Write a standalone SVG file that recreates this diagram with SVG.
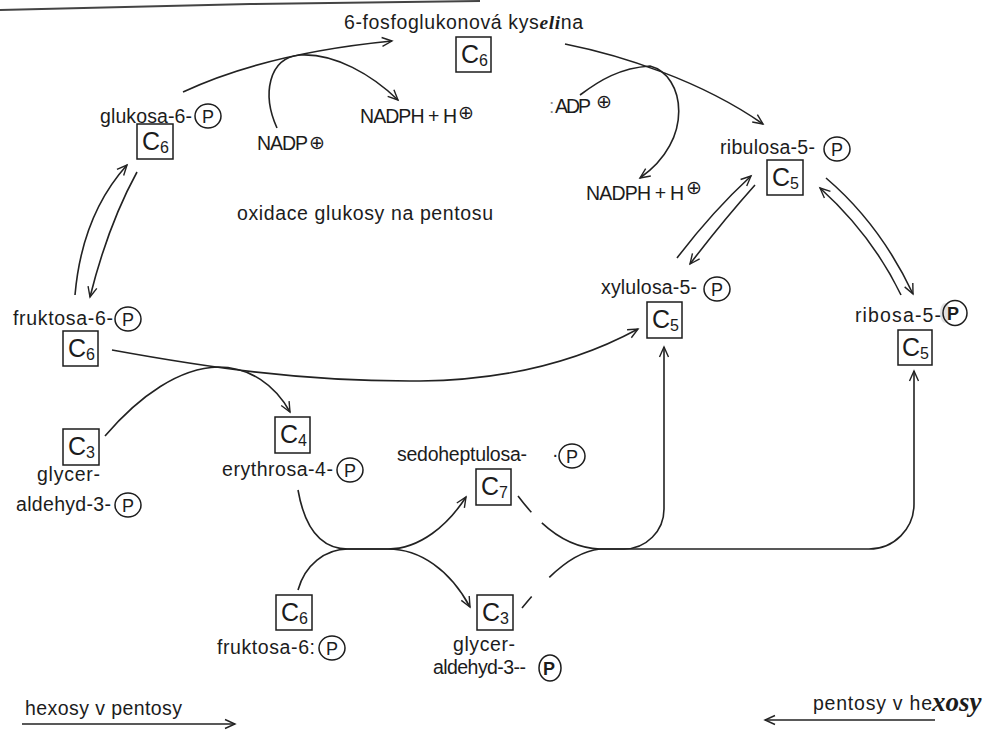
<svg xmlns="http://www.w3.org/2000/svg" width="994" height="737" viewBox="0 0 994 737">
  <defs>
    <style>
      .lbl { font-family: "Liberation Sans", Arial, sans-serif; font-size: 19.5px; fill: #1c1c1c; }
      .box { fill: none; stroke: #1c1c1c; stroke-width: 1.5; }
      .cl { font-family: "Liberation Sans", Arial, sans-serif; font-size: 25px; fill: #1c1c1c; }
      .sub { font-size: 16px; }
      .ph { fill: none; stroke: #1c1c1c; stroke-width: 1.5; }
      .pt { font-family: "Liberation Sans", Arial, sans-serif; font-size: 18px; fill: #1c1c1c; text-anchor: middle; }
      .plus { font-family: "DejaVu Sans", sans-serif; font-size: 19px; fill: #1c1c1c; text-anchor: middle; }
      .hand { font-family: "Liberation Serif", serif; font-style: italic; font-weight: bold; }
      .big { font-size: 27px; }
      .conn path { fill: none; stroke: #222; stroke-width: 1.6; }
    </style>
    <marker id="ah" markerUnits="userSpaceOnUse" markerWidth="14" markerHeight="12" refX="11" refY="6" orient="auto">
      <path d="M1,1.5 L11,6 L1,10.5" fill="none" stroke="#222" stroke-width="1.4"/>
    </marker>
  </defs>

  <rect width="994" height="737" fill="#ffffff"/>
  <!-- page edge at the top -->
  <path d="M0,10 L250,4 L480,1" fill="none" stroke="#444" stroke-width="2"/>

  <!-- connectors -->
  <g id="connectors" class="conn">
    <!-- glukosa-6-P -> 6-fosfoglukonova kyselina, NADP+ -> NADPH -->
    <path d="M183,92 C230,70 300,50 392,41" marker-end="url(#ah)"/>
    <path d="M277,128 C262,95 268,58 300,55 C335,53 372,75 398,100" marker-end="url(#ah)"/>
    <!-- 6-fosfoglukonova kyselina -> ribulosa-5-P, NADP+ -> NADPH -->
    <path d="M565,44 C620,55 700,80 763,124" marker-end="url(#ah)"/>
    <path d="M580,95 C600,80 620,68 650,66 C685,75 695,140 640,178" marker-end="url(#ah)"/>
    <!-- ribulosa <-> xylulosa -->
    <path d="M677,258 Q712,212 751,176" marker-end="url(#ah)"/>
    <path d="M755,185 Q722,222 690,264" marker-end="url(#ah)"/>
    <!-- ribulosa <-> ribosa -->
    <path d="M826,178 Q880,224 913,294" marker-end="url(#ah)"/>
    <path d="M901,295 Q872,235 820,188" marker-end="url(#ah)"/>
    <!-- glukosa <-> fruktosa -->
    <path d="M75,295 Q82,215 127,165" marker-end="url(#ah)"/>
    <path d="M137,172 Q108,225 90,297" marker-end="url(#ah)"/>
    <!-- fruktosa-6-P -> xylulosa-5-P -->
    <path d="M112,350 C200,366 300,382 420,381 C520,380 590,355 638,329" marker-end="url(#ah)"/>
    <!-- glyceraldehyd-3-P -> erythrosa-4-P -->
    <path d="M105,436 C140,395 180,368 218,367 C250,367 275,385 290,412" marker-end="url(#ah)"/>
    <!-- erythrosa + fruktosa -> sedoheptulosa + glyceraldehyd -->
    <path d="M298,490 C305,530 322,549 348,549 L388,549 C420,549 448,525 466,497" marker-end="url(#ah)"/>
    <path d="M298,590 C305,565 325,549 348,549 L388,549 C420,549 450,570 470,607" marker-end="url(#ah)"/>
    <!-- sedoheptulosa + glyceraldehyd -> pentoses -->
    <path d="M518,496 C540,525 565,548 600,549" stroke-dasharray="21 15 200"/>
    <path d="M522,608 C545,580 570,552 600,549" stroke-dasharray="15 26 200"/>
    <path d="M600,549 L624,549 A40,40 0 0 0 664,509 L664,347" marker-end="url(#ah)"/>
    <path d="M600,549 L869,549 A45,45 0 0 0 914,504 L914,371" marker-end="url(#ah)"/>
    <!-- direction legend -->
    <path d="M22,724 L235,724" marker-end="url(#ah)"/>
    <path d="M935,720 L765,720" marker-end="url(#ah)"/>
  </g>

  <!-- 6-fosfoglukonova kyselina -->
  <g id="fosfoglukonat">
    <text class="lbl" x="344" y="29" textLength="239">6-fosfoglukonová kys<tspan class="hand">eli</tspan>na</text>
    <rect class="box" x="456" y="37" width="35" height="35"/>
    <text class="cl" x="461" y="63">C<tspan class="sub" dy="3">6</tspan></text>
  </g>

  <!-- glukosa-6-P -->
  <g id="glukosa6p">
    <text class="lbl" x="100" y="123" textLength="92">glukosa-6-</text>
    <ellipse class="ph" cx="208" cy="116" rx="13" ry="12"/>
    <text class="pt" x="208" y="122.5">P</text>
    <rect class="box" x="137" y="124" width="36" height="35"/>
    <text class="cl" x="142" y="150">C<tspan class="sub" dy="3">6</tspan></text>
  </g>

  <!-- cofactors, oxidative branch -->
  <g id="nadp1">
    <text class="lbl" x="257" y="150" textLength="51">NADP</text>
    <text class="plus" x="317" y="149">⊕</text>
  </g>
  <g id="nadph1">
    <text class="lbl" x="360" y="123" textLength="97">NADPH + H</text>
    <text class="plus" x="466" y="119">⊕</text>
  </g>
  <g id="nadp2">
    <text class="lbl" x="549" y="113" fill-opacity="0.5">:</text>
    <text class="lbl" x="555" y="113" textLength="36">ADP</text>
    <text class="plus" x="604" y="108">⊕</text>
  </g>
  <g id="nadph2">
    <text class="lbl" x="586" y="200" textLength="98">NADPH + H</text>
    <text class="plus" x="694" y="194">⊕</text>
  </g>

  <g id="caption-oxidace">
    <text class="lbl" x="237" y="220" textLength="256">oxidace glukosy na pentosu</text>
  </g>

  <!-- ribulosa-5-P -->
  <g id="ribulosa5p">
    <text class="lbl" x="720" y="154" textLength="95">ribulosa-5-</text>
    <ellipse class="ph" cx="837" cy="149" rx="13" ry="12"/>
    <text class="pt" x="837" y="155.5">P</text>
    <rect class="box" x="767" y="160" width="36" height="35"/>
    <text class="cl" x="772" y="186">C<tspan class="sub" dy="3">5</tspan></text>
  </g>

  <!-- xylulosa-5-P -->
  <g id="xylulosa5p">
    <text class="lbl" x="601" y="294" textLength="96">xylulosa-5-</text>
    <ellipse class="ph" cx="717" cy="289" rx="13" ry="12" stroke-width="1"/>
    <text class="pt" x="717" y="295.5" font-weight="300">P</text>
    <rect class="box" x="647" y="302" width="35" height="36"/>
    <text class="cl" x="652" y="328">C<tspan class="sub" dy="3">5</tspan></text>
  </g>

  <!-- ribosa-5-P -->
  <g id="ribosa5p">
    <text class="lbl" x="855" y="322" textLength="86">ribosa-5-</text>
    <ellipse cx="945" cy="313" rx="5" ry="10" fill="#bbb" fill-opacity="0.45"/>
    <ellipse class="ph" cx="955" cy="313" rx="12" ry="12.5" stroke-width="2.4"/>
    <text class="pt" x="953" y="320" font-weight="bold">P</text>
    <rect class="box" x="898" y="330" width="34" height="35"/>
    <text class="cl" x="902" y="356">C<tspan class="sub" dy="3">5</tspan></text>
  </g>

  <!-- fruktosa-6-P -->
  <g id="fruktosa6p">
    <text class="lbl" x="13" y="325" textLength="100">fruktosa-6-</text>
    <ellipse class="ph" cx="128" cy="319" rx="13" ry="12"/>
    <text class="pt" x="128" y="325.5">P</text>
    <rect class="box" x="63" y="331" width="35" height="35"/>
    <text class="cl" x="68" y="357">C<tspan class="sub" dy="3">6</tspan></text>
  </g>

  <!-- glyceraldehyd-3-P (left) -->
  <g id="glyceraldehyd3p-a">
    <rect class="box" x="63" y="429" width="36" height="36"/>
    <text class="cl" x="68" y="455">C<tspan class="sub" dy="3">3</tspan></text>
    <text class="lbl" x="37" y="481" textLength="63">glycer-</text>
    <text class="lbl" x="16" y="511" textLength="95">aldehyd-3-</text>
    <ellipse class="ph" cx="128" cy="505" rx="13" ry="12"/>
    <text class="pt" x="128" y="511.5">P</text>
  </g>

  <!-- erythrosa-4-P -->
  <g id="erythrosa4p">
    <rect class="box" x="275" y="417" width="35" height="36"/>
    <text class="cl" x="280" y="443">C<tspan class="sub" dy="3">4</tspan></text>
    <text class="lbl" x="222" y="476" textLength="111">erythrosa-4-</text>
    <ellipse class="ph" cx="350" cy="470" rx="13" ry="12"/>
    <text class="pt" x="350" y="476.5">P</text>
  </g>

  <!-- sedoheptulosa-7-P -->
  <g id="sedoheptulosa7p">
    <text class="lbl" x="397" y="461" textLength="130">sedoheptulosa-</text>
    <text class="lbl" x="552" y="461">·</text>
    <ellipse class="ph" cx="572" cy="456" rx="13" ry="12"/>
    <text class="pt" x="572" y="462.5">P</text>
    <rect class="box" x="476" y="469" width="35" height="36"/>
    <text class="cl" x="481" y="495">C<tspan class="sub" dy="3">7</tspan></text>
  </g>

  <!-- fruktosa-6-P (bottom) -->
  <g id="fruktosa6p-b">
    <rect class="box" x="276" y="595" width="36" height="35"/>
    <text class="cl" x="281" y="621">C<tspan class="sub" dy="3">6</tspan></text>
    <text class="lbl" x="217" y="654" textLength="98">fruktosa-6:</text>
    <ellipse class="ph" cx="332" cy="648" rx="13" ry="12"/>
    <text class="pt" x="332" y="654.5">P</text>
  </g>

  <!-- glyceraldehyd-3-P (bottom) -->
  <g id="glyceraldehyd3p-b">
    <rect class="box" x="477" y="595" width="36" height="35"/>
    <text class="cl" x="482" y="621">C<tspan class="sub" dy="3">3</tspan></text>
    <text class="lbl" x="453" y="651" textLength="62">glycer-</text>
    <text class="lbl" x="433" y="674" textLength="93">aldehyd-3--</text>
    <ellipse class="ph" cx="550" cy="668" rx="11" ry="13" stroke-width="2.2"/>
    <text class="pt" x="549" y="675" font-weight="bold">P</text>
  </g>

  <!-- direction legend -->
  <g id="legend-left">
    <text class="lbl" x="25" y="715" textLength="157">hexosy v pentosy</text>
  </g>
  <g id="legend-right">
    <text class="lbl" x="813" y="710" textLength="119">pentosy v he</text>
    <text class="lbl hand big" x="932" y="711">xosy</text>
  </g>
</svg>
